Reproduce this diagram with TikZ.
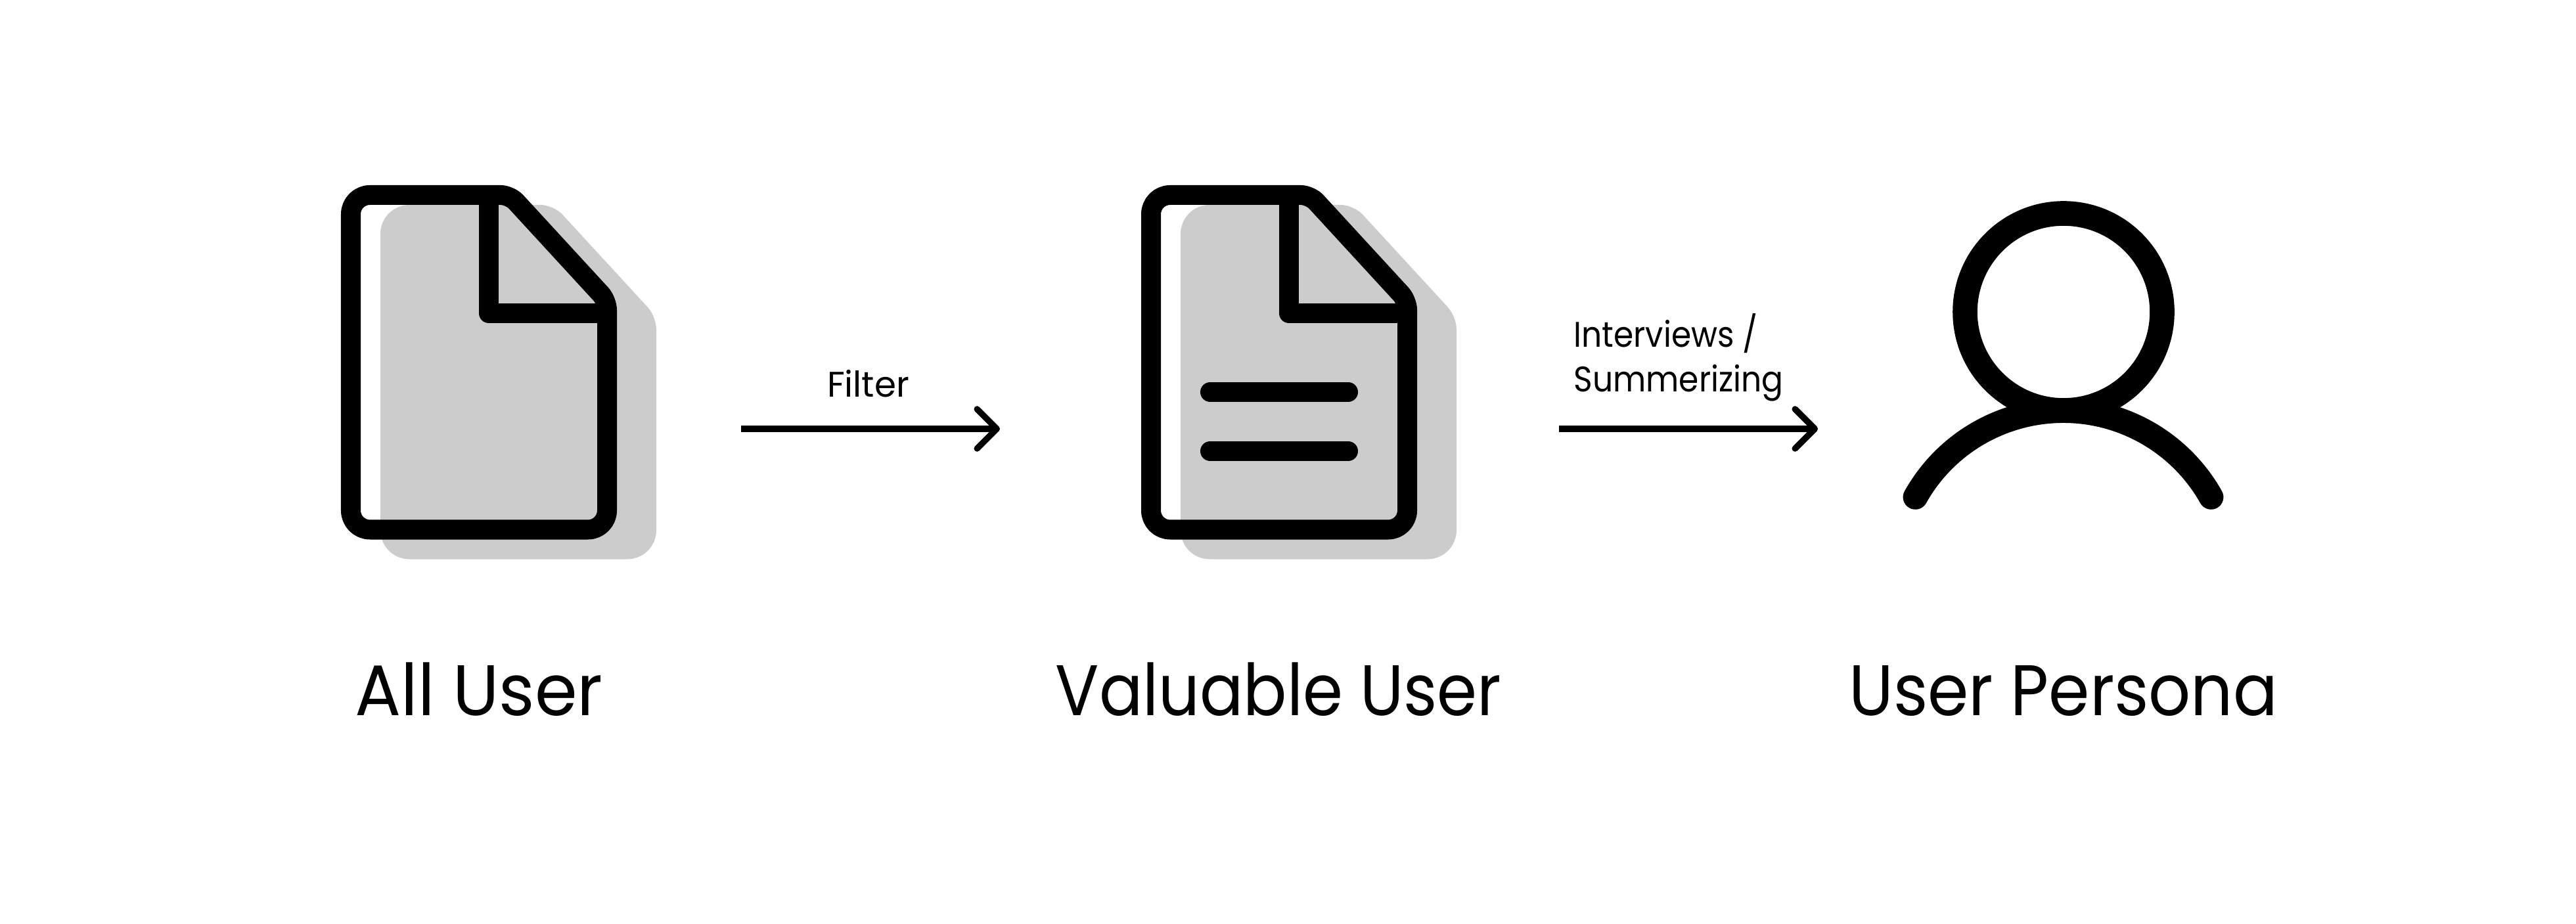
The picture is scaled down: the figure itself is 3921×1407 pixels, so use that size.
\documentclass[tikz,border=0pt]{standalone}
\usepackage{fontspec}
\setmainfont{Poppins}
\usetikzlibrary{arrows.meta}
\definecolor{docshade}{HTML}{CCCCCC}
\tikzset{
  bigtext/.style={inner sep=0pt,anchor=base,transform shape,font=\fontsize{31}{31}\selectfont},
  smalltext/.style={inner sep=0pt,transform shape,font=\fontsize{15.4}{19.56}\selectfont},
  docline/.style={line width=0.3cm,line join=round,line cap=round},
  flow/.style={line width=0.095cm,-{Straight Barb[length=0.3cm,width=0.6cm,round]}}
}
% outline of the sheet
\newcommand{\docpath}{
  [rounded corners=0.29cm] (534,400) -- (534,297)
  [rounded corners=0.14cm] -- (776,297) -- (924,458)
  [rounded corners=0.29cm] -- (924,806.5) -- (534,806.5) -- cycle
}
\begin{document}
\begin{tikzpicture}[x=0.01cm,y=-0.01cm]
\useasboundingbox (0,0) rectangle (3921,1407);
% first sheet
\draw[docline,docshade,fill=docshade,shift={(60,30)}] \docpath;
\draw[docline] \docpath;
\draw[docline] (744,297) -- (744,477) -- (924,477);
% second sheet
\begin{scope}[shift={(1218,0)}]
\draw[docline,docshade,fill=docshade,shift={(60,30)}] \docpath;
\draw[docline] \docpath;
\draw[docline] (744,297) -- (744,477) -- (924,477);
% text lines on second sheet
\draw[docline] (624,597) -- (834,597);
\draw[docline] (624,687) -- (834,687);
\end{scope}
% head
\draw[line width=0.376cm] (3141,475) circle[radius=150];
% shoulders
\draw[line width=0.376cm,line cap=round] (2915.4,757) arc[start angle=209.3,end angle=330.7,radius=258.1];
% arrows
\coordinate (filterfrom) at (1128,653);
\coordinate (filterto) at (1522,653);
\coordinate (talkfrom) at (2373,653);
\coordinate (talkto) at (2767,653);
\draw[flow] (filterfrom) -- (filterto);
\draw[flow] (talkfrom) -- (talkto);
\node[smalltext,anchor=base,xscale=0.98] (filterlabel) at (1321.5,605) {Filter};
\node[smalltext,anchor=base west,align=left,xscale=0.9] (talklabel) at (2395,597) {Interviews /\\Summerizing};
% captions
\node[bigtext,xscale=0.955] (alluser) at (729,1089) {All User};
\node[bigtext,xscale=0.9] (valuable) at (1946,1089) {Valuable User};
\node[bigtext,xscale=0.92] (persona) at (3140.6,1089) {User Persona};
\end{tikzpicture}
\end{document}
